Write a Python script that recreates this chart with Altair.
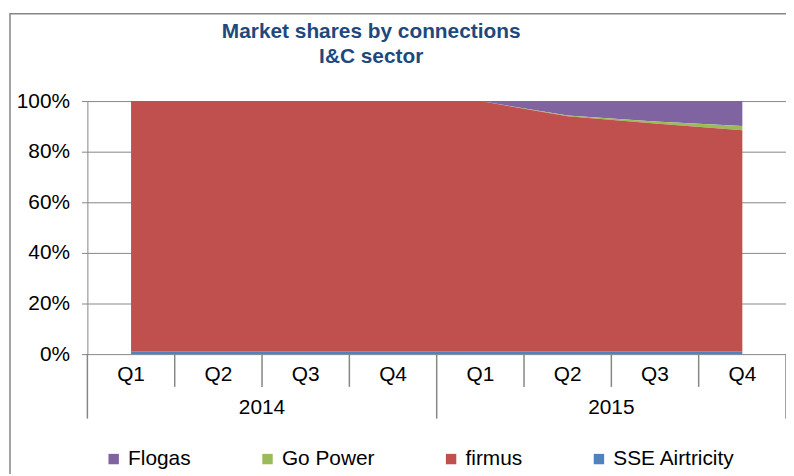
import altair as alt
import pandas as pd

# ---- data ----
quarters = ["Q1", "Q2", "Q3", "Q4", "Q1", "Q2", "Q3", "Q4"]
years = ["2014", "2014", "2014", "2014", "2015", "2015", "2015", "2015"]
suppliers = ["Flogas", "Go Power", "firmus", "SSE Airtricity"]
colors = ["#8064A2", "#9BBB59", "#C0504D", "#4F81BD"]
flogas = [0.0, 0.0, 0.0, 0.0, 0.0, 5.7, 8.1, 9.8]
go_power = [0.0, 0.0, 0.0, 0.0, 0.0, 0.3, 0.8, 1.7]
firmus = [98.9, 98.9, 98.9, 98.9, 98.9, 92.9, 90.0, 87.4]
sse = [1.1, 1.1, 1.1, 1.1, 1.1, 1.1, 1.1, 1.1]

series = {"Flogas": flogas, "Go Power": go_power, "firmus": firmus, "SSE Airtricity": sse}
stack_rank = {"SSE Airtricity": 0, "firmus": 1, "Go Power": 2, "Flogas": 3}

rows = []
for i, (q, yr) in enumerate(zip(quarters, years)):
    for s, vals in series.items():
        rows.append({"pos": i + 0.5, "quarter": q, "year": yr, "supplier": s,
                     "share": vals[i], "rank": stack_rank[s]})
df = pd.DataFrame(rows)

qdf = pd.DataFrame({"pos": [i + 0.5 for i in range(len(quarters))], "quarter": quarters})
ydf = (pd.DataFrame({"pos": [i + 0.5 for i in range(len(quarters))], "year": years})
       .groupby("year", as_index=False)["pos"].mean())
n = len(quarters)
sep_df = pd.DataFrame({
    "b": list(range(n + 1)),
    "long": [i == 0 or i == n or years[i] != years[i - 1] for i in range(n + 1)],
})

W, H = 704, 255
GRAY = "#868686"
FONT = "Liberation Sans"
FS = 21
xscale = alt.Scale(domain=[0, n], nice=False, zero=False)

frame = alt.Chart(pd.DataFrame({"k": [0]})).mark_rect(
    filled=False, stroke=GRAY, strokeWidth=1.5
).encode(x=alt.value(-78), x2=alt.value(W + 60), y=alt.value(-88), y2=alt.value(H + 200))

area = alt.Chart(df).mark_area(opacity=1).encode(
    x=alt.X("pos:Q", scale=xscale, axis=None),
    y=alt.Y("share:Q", stack="normalize",
            scale=alt.Scale(domain=[0, 1], nice=False),
            axis=alt.Axis(format=".0%", values=[0, 0.2, 0.4, 0.6, 0.8, 1.0], title=None,
                          grid=True, gridColor=GRAY, domainColor=GRAY, tickColor=GRAY,
                          tickSize=6, labelFontSize=FS, labelFont=FONT, labelColor="#000000",
                          labelPadding=12)),
    color=alt.Color("supplier:N", scale=alt.Scale(domain=suppliers, range=colors),
                    legend=alt.Legend(title=None, orient="none", direction="horizontal",
                                      legendX=16, legendY=350, symbolType="square",
                                      symbolSize=110, symbolStrokeWidth=0,
                                      labelFontSize=FS, labelFont=FONT, labelColor="#000000",
                                      columnPadding=66, labelOffset=4, labelLimit=300)),
    order=alt.Order("rank:Q"),
)

short_rules = alt.Chart(sep_df).transform_filter("!datum.long").mark_rule(
    color=GRAY, strokeWidth=1.5
).encode(x=alt.X("b:Q", scale=xscale), y=alt.value(H), y2=alt.value(H + 33))

long_rules = alt.Chart(sep_df).transform_filter("datum.long").mark_rule(
    color=GRAY, strokeWidth=1.5
).encode(x=alt.X("b:Q", scale=xscale), y=alt.value(H), y2=alt.value(H + 65))

q_text = alt.Chart(qdf).mark_text(
    fontSize=FS, font=FONT, baseline="middle", color="#000000"
).encode(x=alt.X("pos:Q", scale=xscale), y=alt.value(H + 21), text="quarter:N")

y_text = alt.Chart(ydf).mark_text(
    fontSize=FS, font=FONT, baseline="middle", color="#000000"
).encode(x=alt.X("pos:Q", scale=xscale), y=alt.value(H + 54), text="year:N")

chart = alt.layer(frame, area, short_rules, long_rules, q_text, y_text).properties(
    width=W, height=H,
    title=alt.TitleParams(["Market shares by connections", "I&C sector"],
                          fontSize=FS, font=FONT, fontWeight="bold", color="#1F497D",
                          anchor="middle", frame="group", dx=-66, offset=-54, lineHeight=25),
    autosize=alt.AutoSizeParams(type="none"),
    padding={"left": 80, "top": 92, "right": 0, "bottom": 119},
).configure_view(strokeWidth=0)

chart.save("out.html", embed_options={"renderer": "svg", "actions": False})
